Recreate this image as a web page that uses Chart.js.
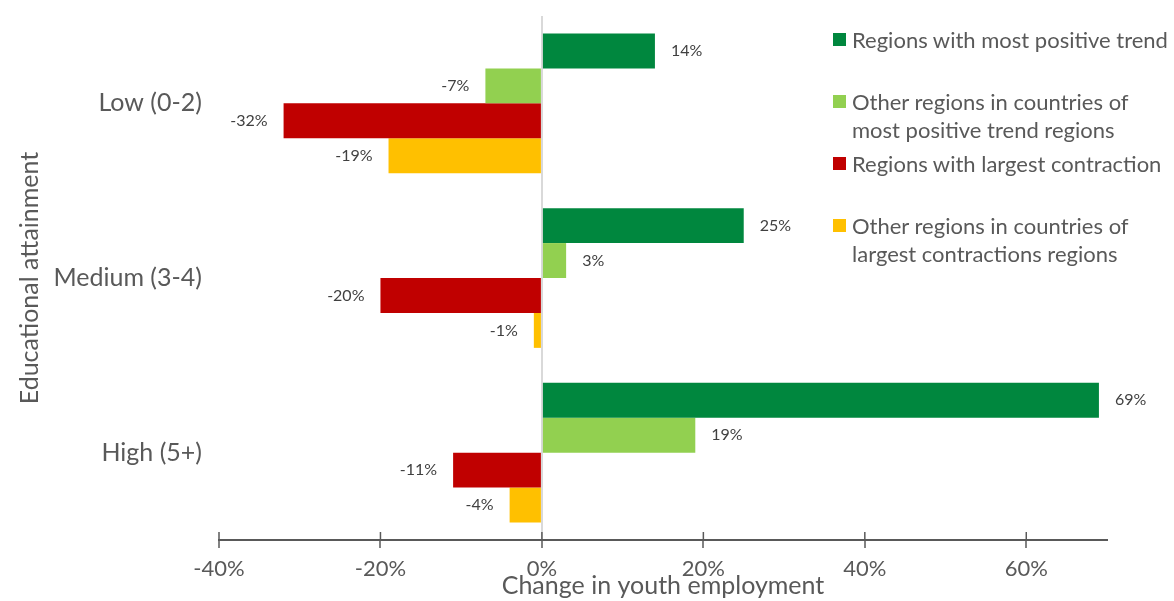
<!DOCTYPE html>
<html>
<head>
<meta charset="utf-8">
<script src="https://cdn.jsdelivr.net/npm/chart.js@4.4.1/dist/chart.umd.min.js"></script>
<style>
  html, body { margin: 0; padding: 0; background: #fff; }
  .wrap { position: relative; width: 1174px; height: 601px; }
  .legend { position: absolute; left: 833px; top: 26px; font-family: Lato, 'Open Sans', sans-serif; font-size: 22px; color: #595959; }
  .legend-item { position: relative; height: 62px; padding-left: 19px; line-height: 28px; white-space: nowrap; }
  .legend-box { position: absolute; left: 0; top: 7px; width: 13px; height: 13px; }
</style>
</head>
<body>
<div class="wrap">
  <canvas id="chart" width="1174" height="601"></canvas>
  <div class="legend" id="legend"></div>
</div>
<script>
const categories = ['Low (0-2)', 'Medium (3-4)', 'High (5+)'];
const seriesNames = [
  'Regions with most positive trend',
  'Other regions in countries of\nmost positive trend regions',
  'Regions with largest contraction',
  'Other regions in countries of\nlargest contractions regions'
];
const mostPositive = [14, 25, 69];
const otherPositive = [-7, 3, 19];
const largestContraction = [-32, -20, -11];
const otherContraction = [-19, -1, -4];
const xTicks = [-40, -20, 0, 20, 40, 60];
const colors = ['#00873E', '#92D050', '#C00000', '#FFC000'];

const seriesValues = [mostPositive, otherPositive, largestContraction, otherContraction];
const FONT = 'Lato, "Open Sans", sans-serif';

// legend (html, overlaid on the plot like the original)
const legendEl = document.getElementById('legend');
seriesNames.forEach((name, i) => {
  const item = document.createElement('div');
  item.className = 'legend-item';
  item.innerHTML = '<span class="legend-box" style="background:' + colors[i] + '"></span>' + name.replace('\n', '<br>');
  legendEl.appendChild(item);
});

// value labels next to bar ends
const barLabels = {
  id: 'barLabels',
  afterDatasetsDraw(chart) {
    const ctx = chart.ctx;
    ctx.save();
    ctx.font = '16px ' + FONT;
    ctx.fillStyle = '#404040';
    ctx.textBaseline = 'middle';
    chart.data.datasets.forEach((ds, di) => {
      chart.getDatasetMeta(di).data.forEach((bar, i) => {
        const v = ds.data[i];
        const txt = v + '%';
        if (v >= 0) {
          ctx.textAlign = 'left';
          ctx.fillText(txt, bar.x + 16, bar.y);
        } else {
          ctx.textAlign = 'right';
          ctx.fillText(txt, bar.x - 16, bar.y);
        }
      });
    });
    ctx.restore();
  }
};

// tick marks crossing the axis line (upper half)
const crossTicks = {
  id: 'crossTicks',
  afterDraw(chart) {
    const x = chart.scales.x;
    const ctx = chart.ctx;
    ctx.save();
    ctx.strokeStyle = '#595959';
    ctx.lineWidth = 1.5;
    x.ticks.forEach(t => {
      const px = x.getPixelForValue(t.value);
      ctx.beginPath();
      ctx.moveTo(px, x.top - 8);
      ctx.lineTo(px, x.top);
      ctx.stroke();
    });
    ctx.restore();
  }
};

new Chart(document.getElementById('chart'), {
  type: 'bar',
  data: {
    labels: categories,
    datasets: seriesValues.map((vals, i) => ({
      label: seriesNames[i],
      data: vals,
      backgroundColor: colors[i],
      categoryPercentage: 0.8,
      barPercentage: 1.0,
      borderWidth: 0
    }))
  },
  options: {
    indexAxis: 'y',
    responsive: false,
    animation: false,
    layout: { padding: { top: 16, right: 67, left: 0, bottom: 0 } },
    plugins: { legend: { display: false }, tooltip: { enabled: false } },
    scales: {
      x: {
        min: -40,
        max: 70,
        afterBuildTicks(axis) {
          axis.ticks = xTicks.map(v => ({ value: v }));
        },
        afterFit(scale) { scale.height = 61; scale.paddingLeft = 0; scale.paddingRight = 0; },
        grid: {
          color: c => (c.tick && c.tick.value === 0 ? '#d9d9d9' : 'rgba(0,0,0,0)'),
          lineWidth: 2,
          tickColor: '#595959',
          tickLength: 8,
          tickWidth: 1.5
        },
        border: { display: true, color: '#595959', width: 2 },
        ticks: {
          padding: 8,
          color: '#595959',
          font: { family: FONT, size: 22 },
          callback: v => v + '%'
        },
        title: {
          display: true,
          text: 'Change in youth employment',
          color: '#595959',
          font: { family: FONT, size: 25 },
          padding: { top: 0, bottom: 0 }
        }
      },
      y: {
        afterFit(scale) { scale.width = 219; scale.paddingTop = 0; scale.paddingBottom = 0; },
        grid: { display: false },
        border: { display: false },
        ticks: {
          padding: 9,
          color: '#595959',
          font: { family: FONT, size: 25 }
        },
        title: {
          display: true,
          text: 'Educational attainment',
          color: '#595959',
          font: { family: FONT, size: 25 },
          padding: { top: 15, bottom: 4 }
        }
      }
    }
  },
  plugins: [barLabels, crossTicks]
});
</script>
</body>
</html>
